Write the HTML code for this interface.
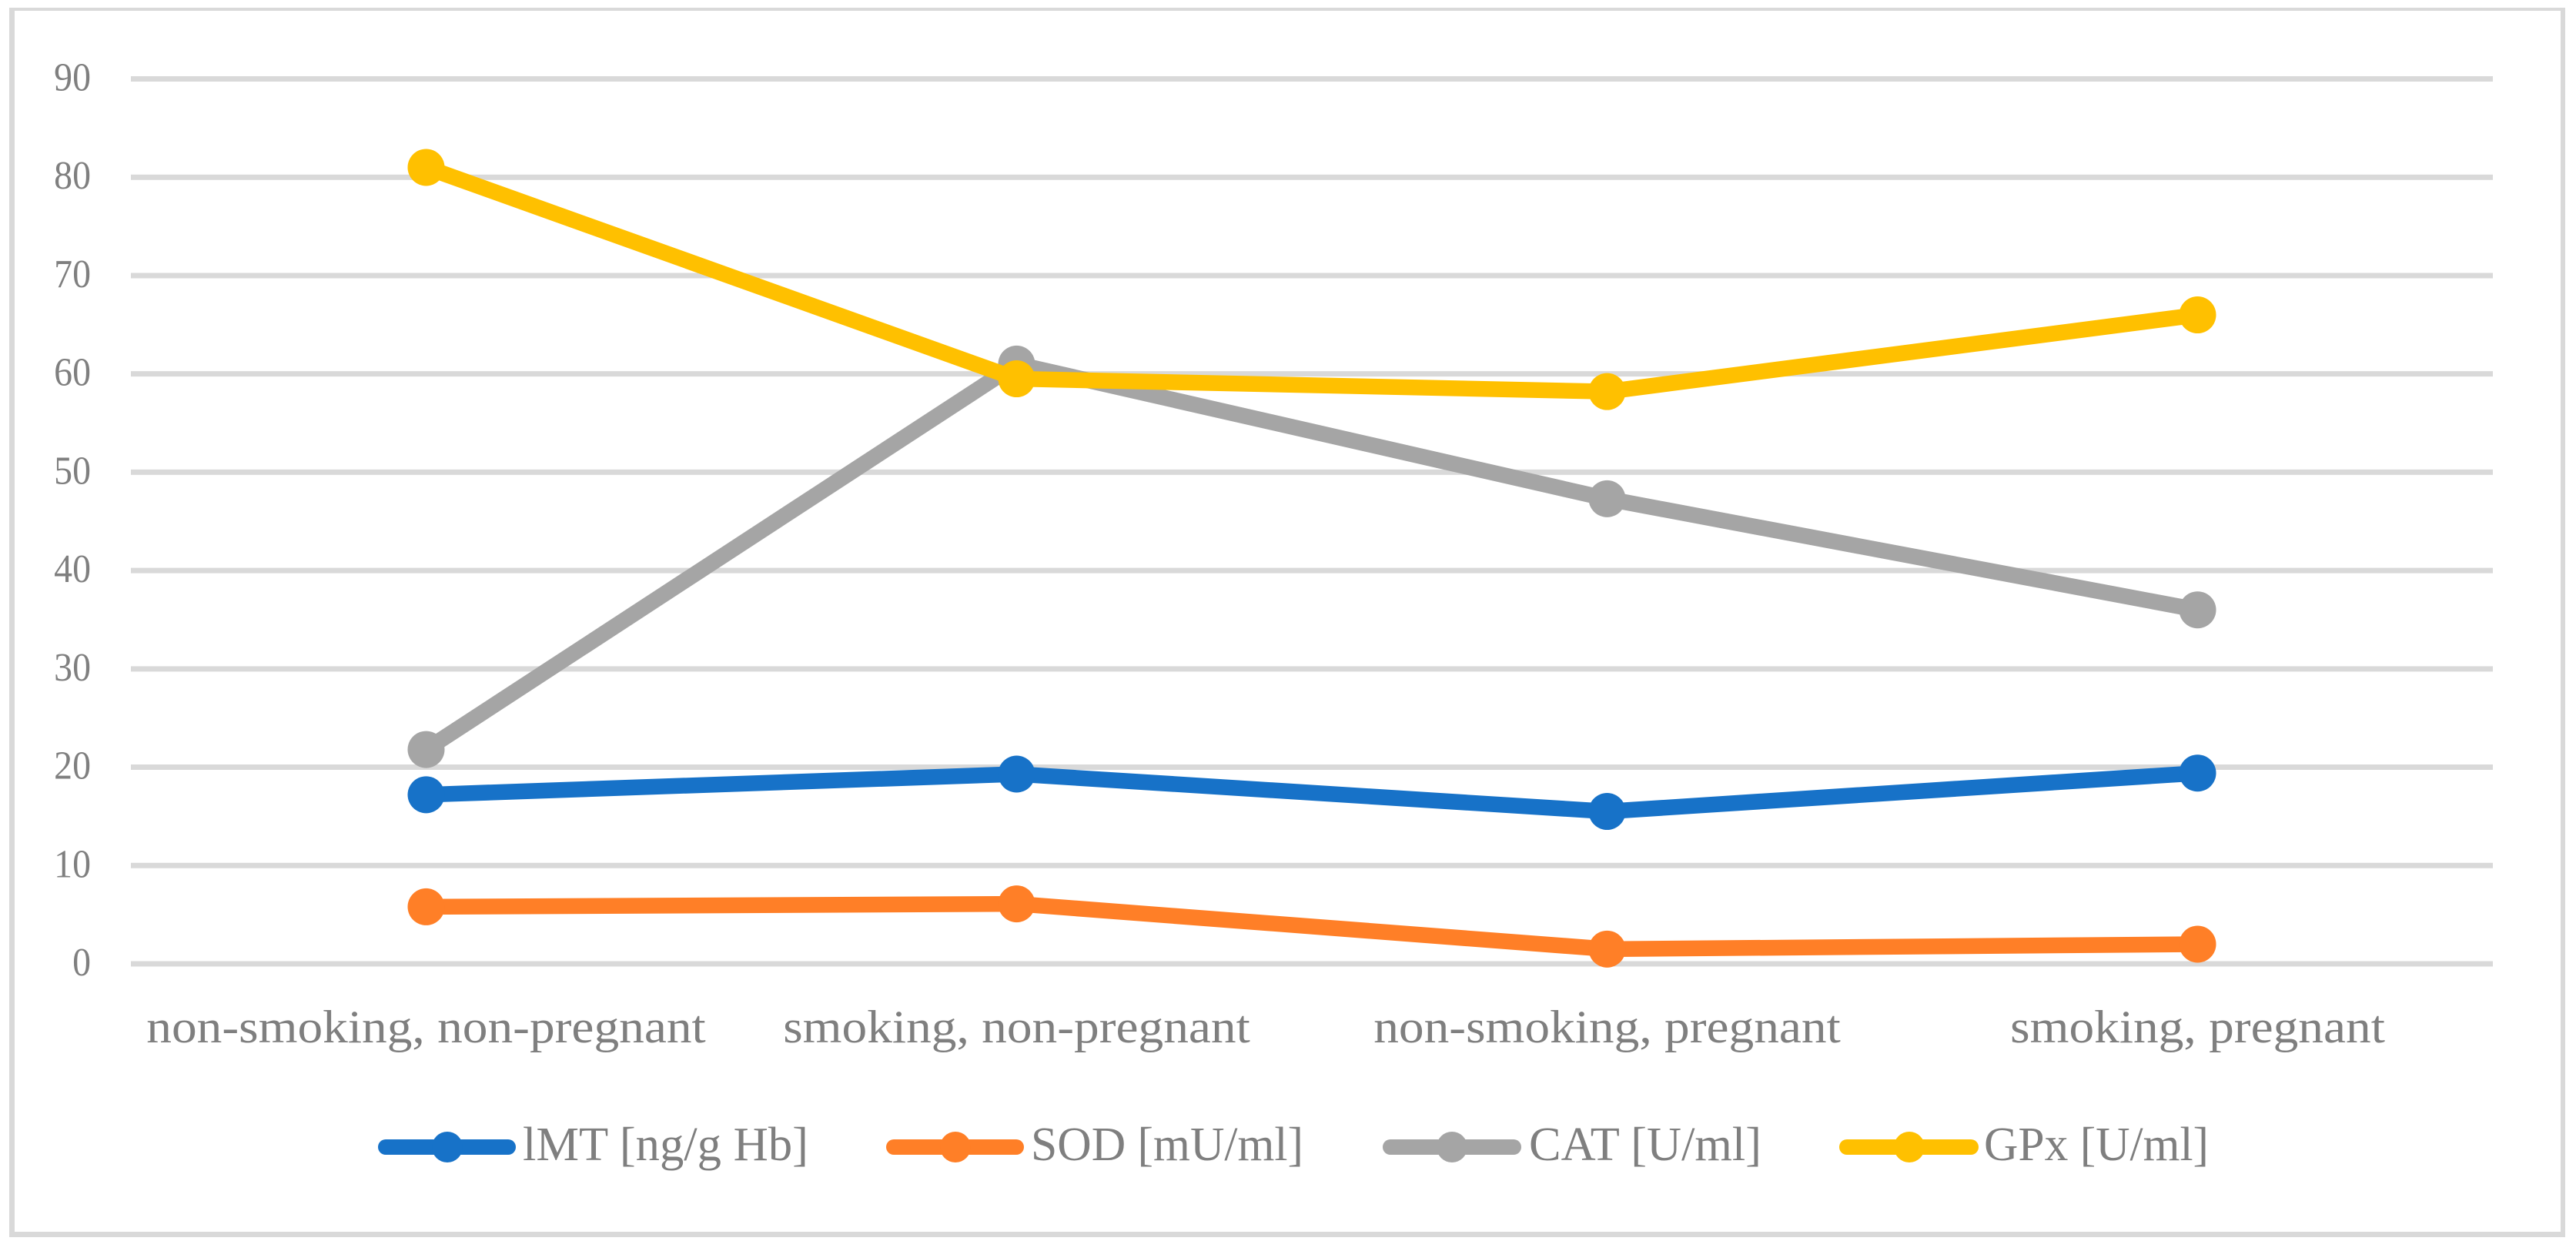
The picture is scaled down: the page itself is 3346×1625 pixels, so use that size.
<!DOCTYPE html>
<html lang="en">
<head>
<meta charset="utf-8">
<title>Antioxidant markers by group</title>
<style>
html,body{margin:0;padding:0;background:#fff;width:3346px;height:1625px;overflow:hidden}
svg{display:block}
text{font-family:"Liberation Serif",serif;fill:#7f7f7f}
</style>
</head>
<body>
<svg id="chart" xmlns="http://www.w3.org/2000/svg" width="3346" height="1625" viewBox="0 0 3346 1625">
  <rect x="0" y="0" width="3346" height="1625" fill="#fff"/>
  <g fill="#d9d9d9">
    <rect x="12" y="10" width="3320" height="4"/>
    <rect x="12" y="10" width="7" height="1597"/>
    <rect x="3326" y="10" width="6" height="1597"/>
    <rect x="12" y="1600" width="3320" height="7"/>
  </g>
  <g id="grid"></g>
  <g id="yticks"></g>
  <g id="xticks"></g>
  <g id="series"></g>
  <g>
    <g>
      <line x1="501" y1="1490" x2="660" y2="1490" stroke="#1772c8" stroke-width="20" stroke-linecap="round"/>
      <circle cx="581" cy="1490" r="20" fill="#1772c8"/>
      <text x="679" y="1507" font-size="62" textLength="371" lengthAdjust="spacingAndGlyphs">lMT [ng/g Hb]</text>
    </g>
    <g>
      <line x1="1161" y1="1490" x2="1320" y2="1490" stroke="#ff7f27" stroke-width="20" stroke-linecap="round"/>
      <circle cx="1241" cy="1490" r="20" fill="#ff7f27"/>
      <text x="1339" y="1507" font-size="62" textLength="354" lengthAdjust="spacingAndGlyphs">SOD [mU/ml]</text>
    </g>
    <g>
      <line x1="1806" y1="1490" x2="1966" y2="1490" stroke="#a5a5a5" stroke-width="20" stroke-linecap="round"/>
      <circle cx="1886" cy="1490" r="20" fill="#a5a5a5"/>
      <text x="1986" y="1507" font-size="62" textLength="302" lengthAdjust="spacingAndGlyphs">CAT [U/ml]</text>
    </g>
    <g>
      <line x1="2399" y1="1490" x2="2560" y2="1490" stroke="#ffc000" stroke-width="20" stroke-linecap="round"/>
      <circle cx="2480" cy="1490" r="20" fill="#ffc000"/>
      <text x="2577" y="1507" font-size="62" textLength="292" lengthAdjust="spacingAndGlyphs">GPx [U/ml]</text>
    </g>
  </g>
</svg>
<script>
const categories = ["non-smoking, non-pregnant", "smoking, non-pregnant", "non-smoking, pregnant", "smoking, pregnant"];
const yTicks = [0, 10, 20, 30, 40, 50, 60, 70, 80, 90];
const imtValues = [17.2, 19.3, 15.5, 19.4];
const sodValues = [5.8, 6.1, 1.5, 2.0];
const catValues = [21.8, 61.0, 47.3, 36.0];
const gpxValues = [81.0, 59.5, 58.2, 66.0];

const NS = "http://www.w3.org/2000/svg";
const plotLeft = 170, plotRight = 3238, yZero = 1252, yTop = 102.5, yMax = 90;
function xScale(i) { return plotLeft + (plotRight - plotLeft) * (i + 0.5) / categories.length; }
function yScale(v) { return yZero - (yZero - yTop) * v / yMax; }
function make(tag, attrs, parent) {
  const el = document.createElementNS(NS, tag);
  for (const k in attrs) el.setAttribute(k, attrs[k]);
  parent.appendChild(el);
  return el;
}
const grid = document.getElementById("grid");
const yticksG = document.getElementById("yticks");
const xticksG = document.getElementById("xticks");
const seriesG = document.getElementById("series");

yTicks.forEach(function (t) {
  const y = yScale(t);
  const line = make("line", { x1: plotLeft, x2: plotRight, y1: y, y2: y, stroke: "#d9d9d9", "stroke-width": 7 }, grid);
  
  
  const label = make("text", { transform: "translate(118," + (y + 15) + ") scale(0.92,1)", "text-anchor": "end", "font-size": 52 }, yticksG);
  label.textContent = String(t);
  
  
});

categories.forEach(function (c, i) {
  const label = make("text", { transform: "translate(" + xScale(i) + ",1354) scale(1.09,1)", "text-anchor": "middle", "font-size": 60 }, xticksG);
  label.textContent = c;
  
  
});

function drawSeries(values, color, name) {
  const g = make("g", {}, seriesG);
  
  
  const pts = values.map(function (v, i) { return xScale(i) + "," + yScale(v); }).join(" ");
  const line = make("polyline", { points: pts, fill: "none", stroke: color, "stroke-width": 20.5, "stroke-linejoin": "round" }, g);
  
  
  values.forEach(function (v, i) {
    const dot = make("circle", { cx: xScale(i), cy: yScale(v), r: 24, fill: color }, g);
    
    
  });
}
drawSeries(imtValues, "#1772c8", "series-imt");
drawSeries(sodValues, "#ff7f27", "series-sod");
drawSeries(catValues, "#a5a5a5", "series-cat");
drawSeries(gpxValues, "#ffc000", "series-gpx");
</script>
</body>
</html>
